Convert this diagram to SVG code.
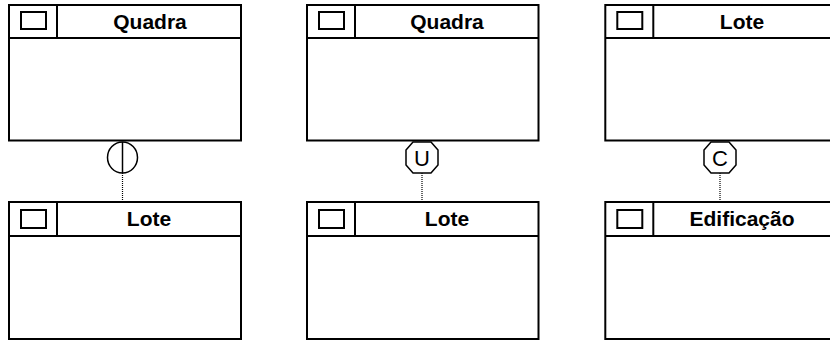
<svg xmlns="http://www.w3.org/2000/svg" width="830" height="341" viewBox="0 0 830 341">
<style>
.box{fill:#fff;stroke:#000;stroke-width:2}
.ln{stroke:#000;stroke-width:2;fill:none}
.title{font-family:"Liberation Sans",Arial,sans-serif;font-weight:bold;font-size:21px;text-anchor:middle;fill:#000}
.sym{fill:#fff;stroke:#000;stroke-width:1.5}
.symt{font-family:"Liberation Sans",Arial,sans-serif;font-size:22px;text-anchor:middle;fill:#000}
.dot{stroke:#000;stroke-width:1.2;stroke-dasharray:1 1;fill:none}
</style>
<g id="connectors">
<line class="dot" x1="122.5" y1="173" x2="122.5" y2="201"/>
<line class="dot" x1="422" y1="173" x2="422" y2="201"/>
<line class="dot" x1="720" y1="173" x2="720" y2="201"/>
<g id="sym-disjoint">
<ellipse class="sym" cx="122.5" cy="157.5" rx="15" ry="15.5"/>
<line x1="122.5" y1="142" x2="122.5" y2="173" stroke="#000" stroke-width="1.5"/>
</g>
<g id="sym-union">
<polygon class="sym" points="413,142 431,142 438,150 438,165 431,173 413,173 406,165 406,150"/>
<text class="symt" x="422" y="166">U</text>
</g>
<g id="sym-c">
<polygon class="sym" points="711,142 729,142 736,150 736,165 729,173 711,173 704,165 704,150"/>
<text class="symt" x="720" y="166">C</text>
</g>
</g>
<g id="quadra1">
<rect class="box" x="9" y="5" width="232" height="135.5"/>
<line class="ln" x1="9" y1="38" x2="241" y2="38"/>
<line class="ln" x1="57" y1="5" x2="57" y2="38"/>
<rect class="box" x="21" y="12" width="25" height="17"/>
<text class="title" x="150" y="28.5">Quadra</text>
</g>
<g id="quadra2">
<rect class="box" x="307" y="5" width="231.5" height="135.5"/>
<line class="ln" x1="307" y1="38" x2="538.5" y2="38"/>
<line class="ln" x1="355" y1="5" x2="355" y2="38"/>
<rect class="box" x="319" y="12" width="25" height="17"/>
<text class="title" x="447" y="28.5">Quadra</text>
</g>
<g id="lote-top">
<rect class="box" x="605.3" y="5" width="226" height="135.5"/>
<line class="ln" x1="605.3" y1="38" x2="831.3" y2="38"/>
<line class="ln" x1="653.3" y1="5" x2="653.3" y2="38"/>
<rect class="box" x="617.3" y="12" width="25" height="17"/>
<text class="title" x="742" y="28.5">Lote</text>
</g>
<g id="lote1">
<rect class="box" x="9" y="202" width="232" height="137"/>
<line class="ln" x1="9" y1="236" x2="241" y2="236"/>
<line class="ln" x1="57" y1="202" x2="57" y2="236"/>
<rect class="box" x="21" y="210" width="25" height="18"/>
<text class="title" x="149" y="225.7">Lote</text>
</g>
<g id="lote2">
<rect class="box" x="307" y="202" width="231.5" height="137"/>
<line class="ln" x1="307" y1="236" x2="538.5" y2="236"/>
<line class="ln" x1="355" y1="202" x2="355" y2="236"/>
<rect class="box" x="319" y="210" width="25" height="18"/>
<text class="title" x="447" y="225.7">Lote</text>
</g>
<g id="edificacao">
<rect class="box" x="605.3" y="202" width="226" height="137"/>
<line class="ln" x1="605.3" y1="236" x2="831.3" y2="236"/>
<line class="ln" x1="653.3" y1="202" x2="653.3" y2="236"/>
<rect class="box" x="617.3" y="210" width="25" height="18"/>
<text class="title" x="742" y="225.7">Edificação</text>
</g>
</svg>
